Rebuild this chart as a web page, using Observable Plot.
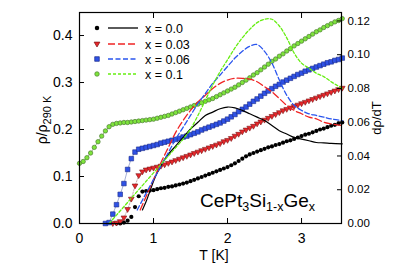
<!DOCTYPE html>
<html><head><meta charset="utf-8">
<script src="https://cdn.jsdelivr.net/npm/d3@7"></script>
<script src="https://cdn.jsdelivr.net/npm/@observablehq/plot@0.6"></script>
<style>body{margin:0;background:#fff} svg{font-family:"Liberation Sans",Arial,sans-serif}</style>
</head><body><div id="chart"></div>
<script>
// ---- data ----
const tempGrid = [0.00,0.05,0.10,0.15,0.20,0.25,0.30,0.35,0.40,0.45,0.50,0.55,0.60,0.65,0.70,0.75,0.80,0.85,0.90,0.95,
  1.00,1.05,1.10,1.15,1.20,1.25,1.30,1.35,1.40,1.45,1.50,1.55,1.60,1.65,1.70,1.75,1.80,1.85,1.90,1.95,
  2.00,2.05,2.10,2.15,2.20,2.25,2.30,2.35,2.40,2.45,2.50,2.55,2.60,2.65,2.70,2.75,2.80,2.85,2.90,2.95,
  3.00,3.05,3.10,3.15,3.20,3.25,3.30,3.35,3.40,3.45,3.50,3.55];
const rho00 = [null,null,null,null,null,null,null,null,null,null,
  0.000,0.000,0.002,0.006,0.014,0.035,0.058,0.068,0.069,0.070,
  0.071,0.073,0.075,0.076,0.078,0.079,0.081,0.083,0.085,0.087,
  0.090,0.093,0.096,0.099,0.102,0.105,0.108,0.111,0.114,0.117,
  0.120,0.124,0.128,0.133,0.138,0.143,0.147,0.150,0.153,0.156,
  0.159,0.162,0.164,0.167,0.169,0.172,0.175,0.177,0.180,0.183,
  0.186,0.189,0.191,0.194,0.197,0.200,0.202,0.205,0.208,0.210,
  0.213,0.215];
const rho03 = [null,null,null,null,null,null,null,null,null,0.000,
  0.001,0.004,0.012,0.030,0.052,0.080,0.102,0.110,0.114,0.116,
  0.118,0.120,0.122,0.125,0.128,0.131,0.134,0.137,0.140,0.143,
  0.146,0.149,0.152,0.155,0.158,0.161,0.164,0.167,0.170,0.174,
  0.177,0.181,0.186,0.190,0.195,0.199,0.203,0.207,0.212,0.216,
  0.220,0.224,0.228,0.232,0.236,0.240,0.243,0.246,0.249,0.252,
  0.255,0.258,0.261,0.264,0.267,0.270,0.273,0.276,0.279,0.282,
  0.285,0.288];
const rho06 = [null,null,null,null,null,null,null,0.000,0.002,0.020,
  0.040,0.062,0.085,0.115,0.138,0.152,0.158,0.160,0.162,0.164,
  0.166,0.168,0.171,0.173,0.175,0.177,0.179,0.181,0.184,0.186,
  0.189,0.192,0.195,0.199,0.202,0.205,0.208,0.211,0.214,0.218,
  0.222,0.227,0.232,0.238,0.243,0.248,0.254,0.260,0.265,0.271,
  0.277,0.282,0.287,0.292,0.296,0.301,0.305,0.309,0.313,0.317,
  0.320,0.324,0.327,0.330,0.333,0.336,0.339,0.342,0.344,0.347,
  0.349,0.352];
const rho10 = [0.128,0.132,0.140,0.150,0.162,0.174,0.186,0.197,0.206,0.211,
  0.213,0.214,0.215,0.215,0.216,0.217,0.218,0.219,0.220,0.221,
  0.222,0.224,0.226,0.228,0.230,0.233,0.236,0.239,0.242,0.245,
  0.248,0.251,0.254,0.257,0.260,0.263,0.266,0.270,0.274,0.278,
  0.282,0.286,0.290,0.295,0.300,0.305,0.310,0.316,0.321,0.327,
  0.333,0.339,0.345,0.350,0.356,0.361,0.367,0.372,0.378,0.383,
  0.388,0.393,0.398,0.403,0.408,0.412,0.417,0.421,0.425,0.429,
  0.432,0.436];

const dT00 = [0.85,0.90,0.95,1.00,1.05,1.10,1.15,1.20,1.30,1.40,1.50,1.60,1.70,1.80,1.90,2.00,2.10,2.20,2.30,2.40,2.50,2.60,2.70,2.80,2.90,3.00,3.10,3.20,3.30,3.40,3.55];
const drho00 = [0.008,0.013,0.019,0.025,0.030,0.034,0.038,0.041,0.046,0.051,0.056,0.060,0.064,0.066,0.068,0.069,0.0685,0.067,0.065,0.063,0.061,0.058,0.055,0.053,0.051,0.050,0.049,0.048,0.0478,0.0475,0.0472];
const dT03 = [0.82,0.90,1.00,1.10,1.20,1.30,1.40,1.50,1.60,1.70,1.80,1.90,2.00,2.10,2.20,2.30,2.40,2.50,2.60,2.70,2.80,2.90,3.00,3.10,3.20,3.30,3.40,3.55];
const drho03 = [0.008,0.016,0.026,0.036,0.045,0.054,0.061,0.067,0.072,0.076,0.080,0.083,0.085,0.086,0.086,0.0855,0.084,0.081,0.078,0.074,0.070,0.067,0.065,0.063,0.062,0.060,0.059,0.058];
const dT06 = [0.78,0.90,1.00,1.10,1.20,1.30,1.40,1.50,1.60,1.70,1.80,1.90,2.00,2.10,2.20,2.30,2.40,2.50,2.60,2.70,2.80,2.90,3.00,3.10,3.20,3.30,3.40,3.55];
const drho06 = [0.008,0.018,0.026,0.034,0.042,0.050,0.057,0.064,0.071,0.077,0.083,0.088,0.093,0.098,0.102,0.105,0.106,0.102,0.095,0.085,0.076,0.070,0.067,0.065,0.064,0.063,0.062,0.061];
const dT10 = [0.40,0.50,0.60,0.70,0.80,0.90,1.00,1.10,1.20,1.30,1.40,1.50,1.60,1.70,1.80,1.90,2.00,2.10,2.20,2.30,2.40,2.50,2.60,2.70,2.80,2.90,3.00,3.10,3.20,3.30,3.40,3.55];
const drho10 = [0.000,0.005,0.010,0.015,0.020,0.025,0.030,0.035,0.040,0.045,0.050,0.056,0.064,0.073,0.082,0.090,0.097,0.104,0.110,0.115,0.119,0.121,0.121,0.117,0.110,0.101,0.095,0.092,0.089,0.087,0.084,0.080];

const legendLabels = ["x = 0.0","x = 0.03","x = 0.06","x = 0.1"];
const xTicks = [0,1,2,3];
const yTicks = [0,0.1,0.2,0.3,0.4];
const rTicks = [0,0.02,0.04,0.06,0.08,0.10,0.12];

// ---- build ----
const yMax = 0.449, rMax = 0.125, k = yMax / rMax;
const toRows = (ts, vs) => ts.map((t,i)=>({T:t, v:vs[i]})).filter(d=>d.v!=null);
const s00 = toRows(tempGrid, rho00), s03 = toRows(tempGrid, rho03), s06 = toRows(tempGrid, rho06), s10 = toRows(tempGrid, rho10);
const d00 = toRows(dT00, drho00), d03 = toRows(dT03, drho03), d06 = toRows(dT06, drho06), d10 = toRows(dT10, drho10);

const triDown = {draw(ctx, size){ const r = Math.sqrt(size/Math.PI); ctx.moveTo(-r*1.15,-r*0.75); ctx.lineTo(r*1.15,-r*0.75); ctx.lineTo(0,r*1.2); ctx.closePath(); }};

const C = {
  k:"#000000",
  rF:"#e8262a", rS:"#7a1414", rD:"#f02424",
  bF:"#2f52e6", bS:"#1b2a88", bD:"#2a55ee",
  gF:"#7ee43c", gS:"#4d7d33", gD:"#66ee11"
};

const plot = Plot.plot({
  width: 409, height: 273,
  marginTop: 12, marginLeft: 79, marginRight: 68, marginBottom: 50,
  style: {fontFamily: "Liberation Sans, Arial, sans-serif", fontSize: "13px", background: "white", overflow: "visible"},
  x: {domain: [0, 3.54]},
  y: {domain: [0, yMax]},
  marks: [
    Plot.line(s06, {x:"T", y:"v", stroke:"#6a78b8", strokeWidth:0.6}),
    Plot.line(s03, {x:"T", y:"v", stroke:"#a07070", strokeWidth:0.6, strokeDasharray:"1.5,1.5"}),
    Plot.line(s10, {x:"T", y:"v", stroke:"#5a8a3a", strokeWidth:0.6}),
    Plot.dot(s00, {x:"T", y:"v", r:2.1, fill:C.k, stroke:"none"}),
    Plot.dot(s03, {x:"T", y:"v", r:2.5, symbol:triDown, fill:C.rF, stroke:C.rS, strokeWidth:0.6}),
    Plot.dot(s06, {x:"T", y:"v", r:2.6, symbol:"square", fill:C.bF, stroke:C.bS, strokeWidth:0.6}),
    Plot.dot(s10, {x:"T", y:"v", r:2.2, symbol:"circle", fill:C.gF, stroke:C.gS, strokeWidth:0.7}),
    Plot.line(d00, {x:"T", y:d=>d.v*k, stroke:C.k, strokeWidth:1.2, curve:"catmull-rom"}),
    Plot.line(d03, {x:"T", y:d=>d.v*k, stroke:C.rD, strokeWidth:1.3, strokeDasharray:"7,3", curve:"catmull-rom"}),
    Plot.line(d06, {x:"T", y:d=>d.v*k, stroke:C.bD, strokeWidth:1.3, strokeDasharray:"5,2.5", curve:"catmull-rom"}),
    Plot.line(d10, {x:"T", y:d=>d.v*k, stroke:C.gD, strokeWidth:1.3, strokeDasharray:"3,2", curve:"catmull-rom"}),
    Plot.axisX(xTicks, {anchor:"bottom", tickSize:-5, tickPadding:15, label:null, fontSize:14, tickFormat:d=>String(d)}),
    Plot.axisX(xTicks, {anchor:"top", tickSize:-5, label:null, tickFormat:()=>""}),
    Plot.axisY(yTicks, {anchor:"left", tickSize:-5, tickPadding:12, label:null, fontSize:14, tickFormat:d=>d.toFixed(1)}),
    Plot.axisY(rTicks.map(v=>v*k), {anchor:"right", tickSize:-5, tickPadding:11, label:null, fontSize:11.5, tickFormat:d=>(d/k).toFixed(2)}),
    Plot.frame({stroke:"black", strokeWidth:1.2})
  ]
});
document.getElementById("chart").appendChild(plot);

// ---- legend, labels, annotation ----
const svg = d3.select(plot);
const legendRowsY = [28,44,59,74];
const lg = svg.append("g").attr("text-anchor","start");
const mk = [
  {sym:d3.symbolCircle, size:16, fill:C.k, stroke:"none", line:C.k, dash:null},
  {sym:triDown, size:20, fill:C.rF, stroke:C.rS, line:C.rD, dash:"7,3"},
  {sym:d3.symbolSquare, size:21, fill:C.bF, stroke:C.bS, line:C.bD, dash:"5,2.5"},
  {sym:d3.symbolCircle, size:16, fill:C.gF, stroke:C.gS, line:C.gD, dash:"3,2"}
];
mk.forEach((m,i)=>{
  const y = legendRowsY[i];
  lg.append("path").attr("d", d3.symbol(m.sym, m.size)()).attr("transform",`translate(97,${y})`)
    .attr("fill", m.fill).attr("stroke", m.stroke).attr("stroke-width",0.7);
  lg.append("line").attr("x1",108).attr("x2",138).attr("y1",y).attr("y2",y)
    .attr("stroke", m.line).attr("stroke-width",1.3).attr("stroke-dasharray", m.dash);
  lg.append("text").attr("x",145).attr("y",y+4.5).attr("font-size",12.5).attr("fill","#000").text(legendLabels[i]);
});

const yl = svg.append("text").attr("transform","translate(47,120) rotate(-90)").attr("text-anchor","middle").attr("font-size",14);
yl.append("tspan").text("ρ/ρ");
yl.append("tspan").attr("font-size",11).attr("dy",4).text("290 K");

svg.append("text").attr("transform","translate(381,118) rotate(-90)").attr("text-anchor","middle").attr("font-size",13).text("dρ/dT");
svg.append("text").attr("x",214).attr("y",260).attr("text-anchor","middle").attr("font-size",14).text("T [K]");

const an = svg.append("text").attr("x",200).attr("y",207).attr("text-anchor","start").attr("font-size",19);
an.append("tspan").text("CePt");
an.append("tspan").attr("font-size",12.5).attr("dy",4).text("3");
an.append("tspan").attr("dy",-4).text("Si");
an.append("tspan").attr("font-size",12.5).attr("dy",4).text("1-x");
an.append("tspan").attr("dy",-4).text("Ge");
an.append("tspan").attr("font-size",12.5).attr("dy",4).text("x");
</script>
</body></html>
